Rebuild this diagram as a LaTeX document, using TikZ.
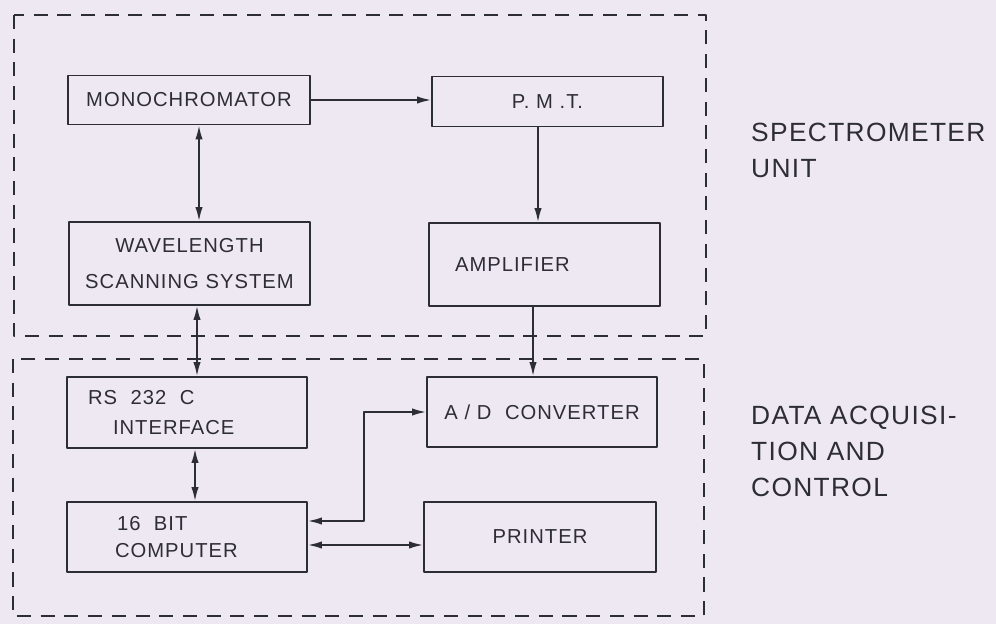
\documentclass[tikz,border=0pt]{standalone}
\usepackage{fontspec}
\setmainfont{Liberation Sans}[LetterSpace=5]
\usetikzlibrary{arrows.meta}
\definecolor{paper}{RGB}{238,232,243}
\definecolor{ink}{RGB}{45,45,52}
\tikzset{
  blok/.style={draw=ink, line width=1pt, inner xsep=0pt, inner ysep=0pt, align=center},
  frame/.style={draw=ink, line width=1pt, dash pattern=on 8pt off 5.5pt},
  side/.style={anchor=west, align=left, font=\fontsize{15}{20.5}\selectfont},
}
\begin{document}
\begin{tikzpicture}[x=0.02cm, y=-0.02cm, font=\fontsize{11.5}{17}\selectfont, text=ink, line join=round, >={Latex[length=8pt,width=4.2pt]}]
\fill[paper] (0,0) rectangle (996,624);
\useasboundingbox (0,0) rectangle (996,624);
\path
(189,100) coordinate (M)
(547.5,101.5) coordinate (P)
(189.5,263.5) coordinate (W)
(544.5,264.5) coordinate (A)
(187,412.5) coordinate (R)
(542,412) coordinate (D)
(187,537) coordinate (C)
(540,537) coordinate (Pr)
;
% the two units
\draw[frame] (14,15) rectangle (706,336);
\draw[frame] (13,359) rectangle (704,616);
% blocks
\node[blok, text width=4.84cm, minimum height=0.98cm] (mono) at (M) {MONOCHROMATOR};
\node[blok, text width=4.62cm, minimum height=1cm] (pmt) at (P) {P.\ M\ .T.};
\node[blok, text width=4.82cm, minimum height=1.66cm] (wave) at (W) {WAVELENGTH\\[3pt]SCANNING SYSTEM};
\node[blok, text width=4.62cm, minimum height=1.66cm, align=left] (amp) at (A) {\hspace*{0.52cm}AMPLIFIER};
\node[blok, text width=4.8cm, minimum height=1.42cm, align=left] (rs) at (R) {\hspace*{0.42cm}RS\ \ 232\ \ C\\\hspace*{0.92cm}INTERFACE};
\node[blok, text width=4.6cm, minimum height=1.4cm] (adc) at (D) {A / D\ \ CONVERTER};
\node[blok, text width=4.8cm, minimum height=1.4cm, align=left] (comp) at (C) {\hspace*{1cm}16\ \ BIT\\[-1.5pt]\hspace*{0.96cm}COMPUTER};
\node[blok, text width=4.64cm, minimum height=1.4cm] (prn) at (Pr) {PRINTER};
% side labels
\node[side] (spec) at (745,150) {SPECTROMETER\\UNIT};
\node[side] (daq) at (745,451.5) {DATA ACQUISI-\\TION AND\\CONTROL};
% links
\begin{scope}[draw=ink, line width=1pt]
\draw[->] (mono.east) -- (mono.east -| pmt.west);
\draw[<->] ([xshift=0.2cm]mono.south) -- ([xshift=0.2cm]mono.south |- wave.north);
\draw[<->] ([xshift=0.15cm]wave.south) -- ([xshift=0.15cm]wave.south |- rs.north);
\draw[<->] ([xshift=0.16cm]rs.south) -- ([xshift=0.16cm]rs.south |- comp.north);
\draw[->] ([xshift=-0.19cm]pmt.south) -- ([xshift=-0.19cm]pmt.south |- amp.north);
\draw[->] ([xshift=-0.23cm]amp.south) -- ([xshift=-0.23cm]amp.south |- adc.north);
\draw[<->] ([yshift=0.32cm]comp.east) -- ++(56,0) |- (adc.west);
\draw[<->] ([yshift=-0.16cm]comp.east) -- ([yshift=-0.16cm]comp.east -| prn.west);
\end{scope}
\end{tikzpicture}
\end{document}
